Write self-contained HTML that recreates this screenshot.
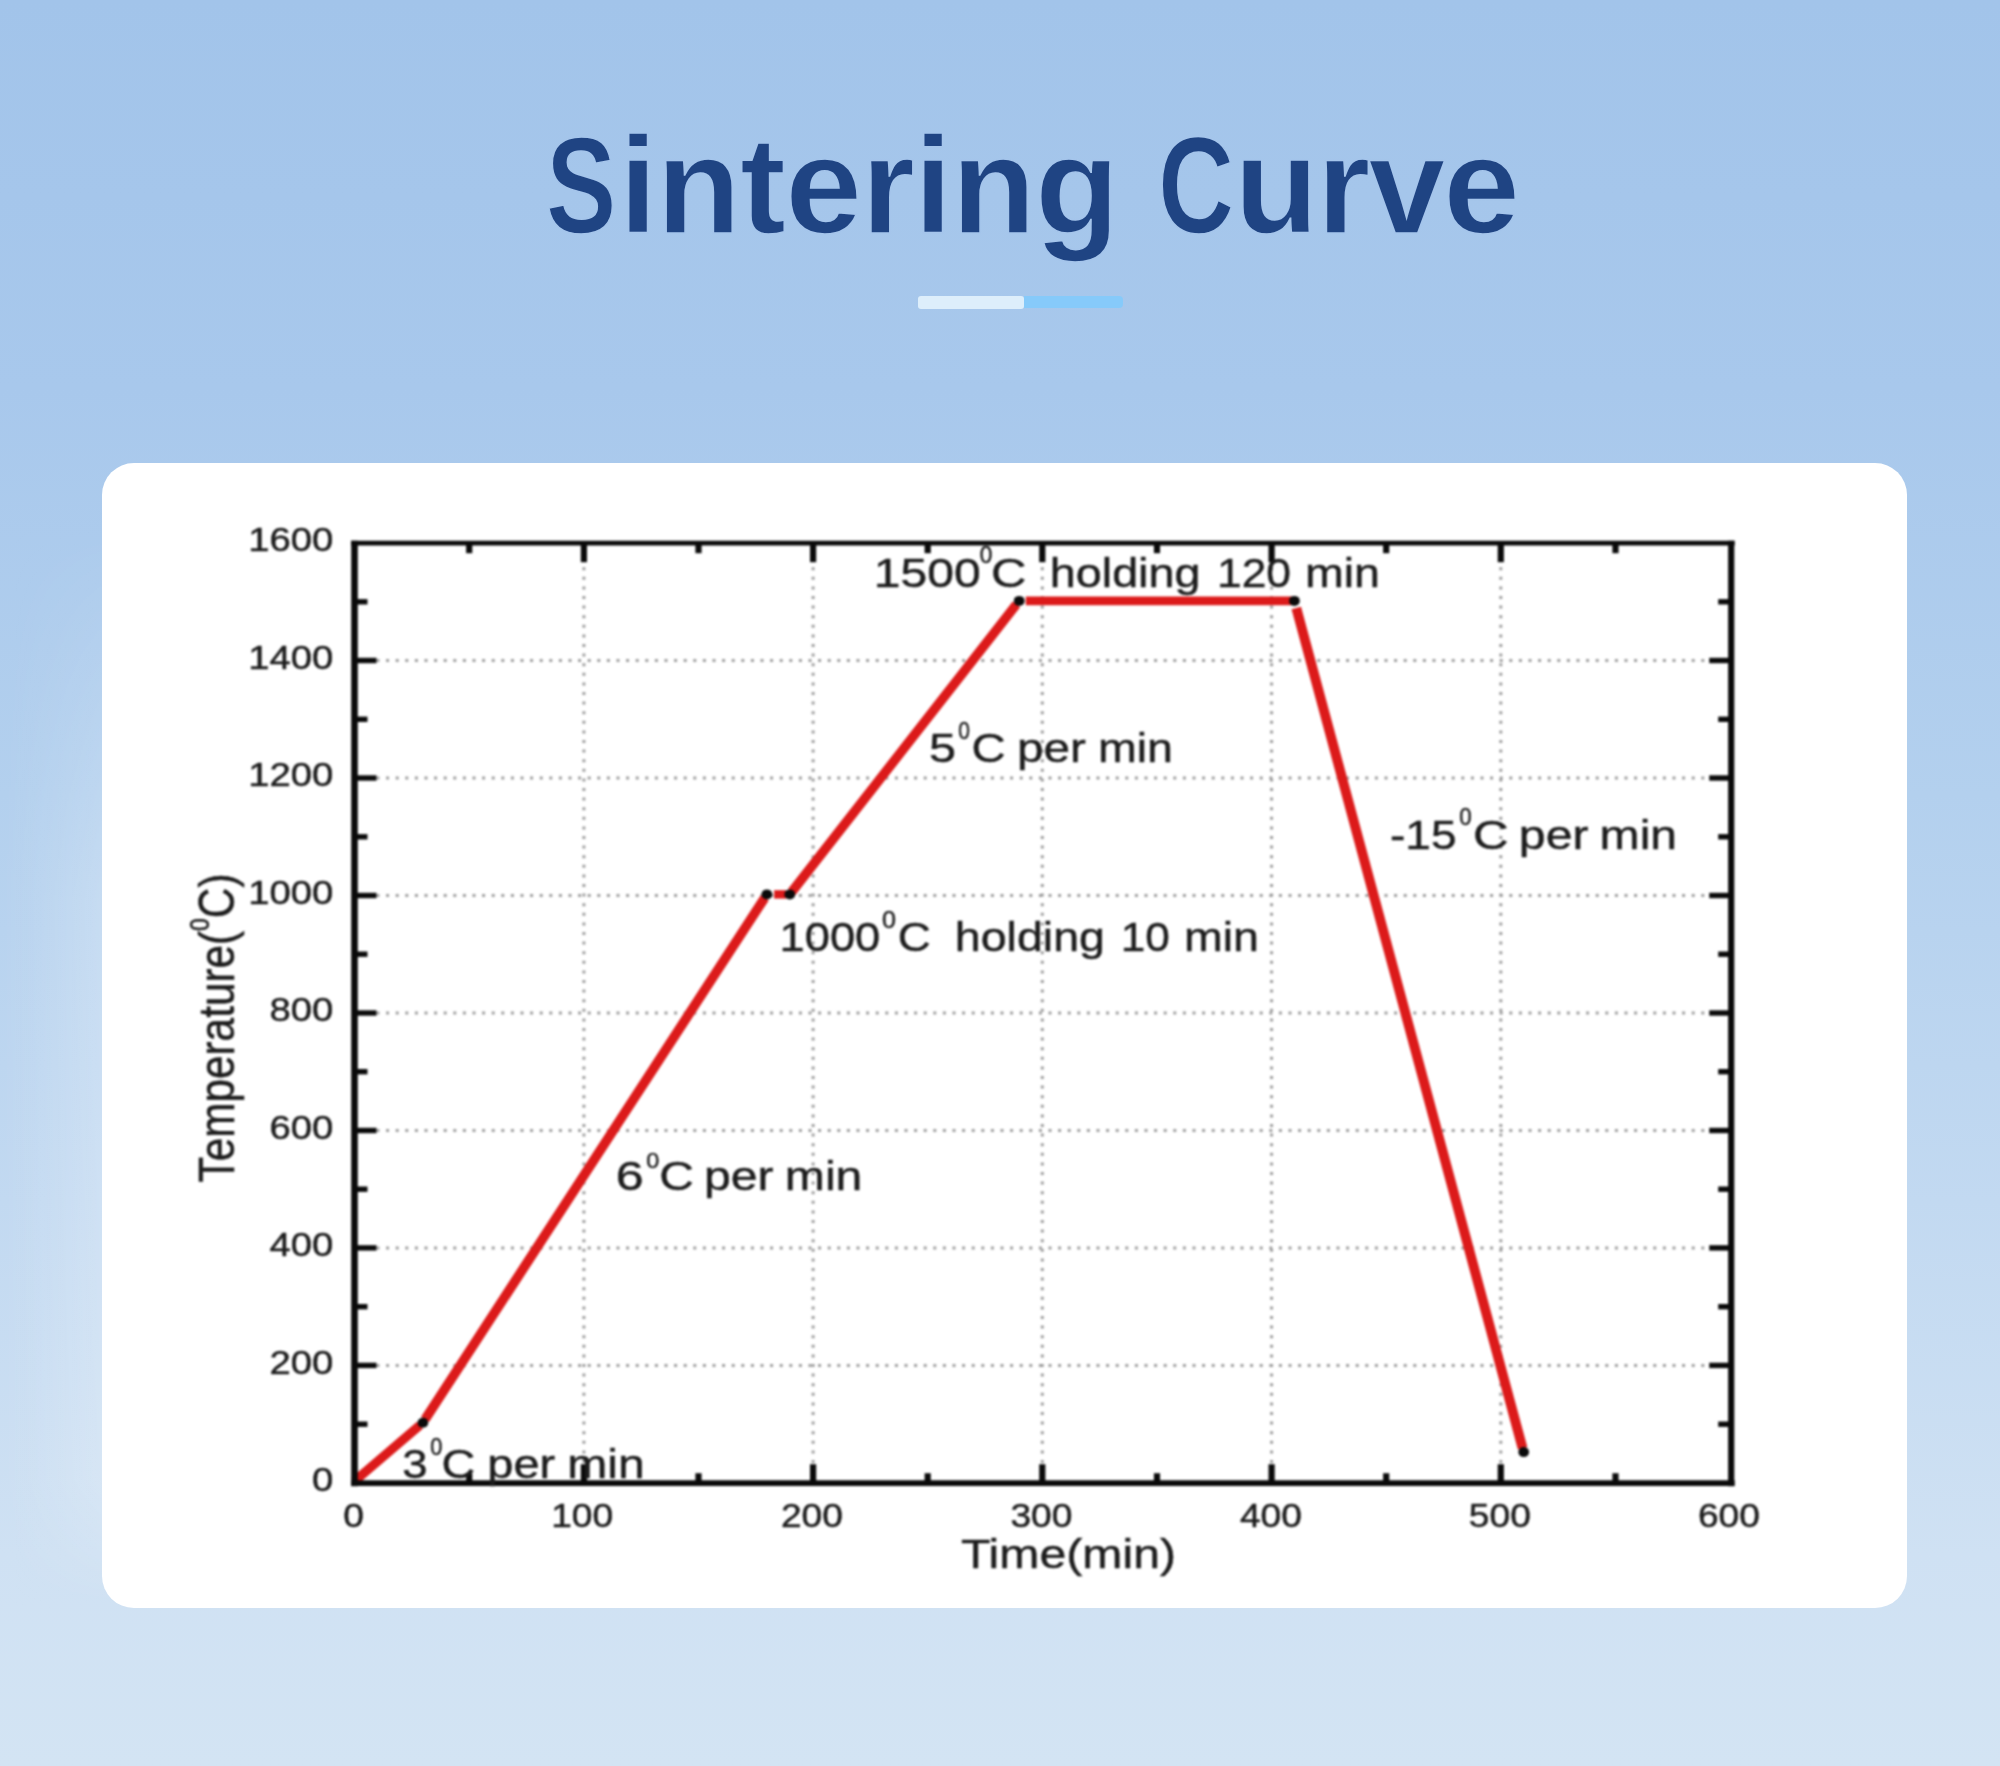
<!DOCTYPE html>
<html lang="en"><head><meta charset="utf-8"><title>Sintering Curve</title>
<style>
html,body{margin:0;padding:0}
body{width:2000px;height:1766px;position:relative;overflow:hidden;
 background:linear-gradient(180deg,#a2c4ea 0%,#a8c8ec 22%,#b3d0ee 45%,#c2d9f1 68%,#cfe1f3 88%,#d3e4f3 100%);
 font-family:"Liberation Sans",sans-serif}
h1{position:absolute;left:545.8px;top:106.2px;margin:0;
 font:bold 138px/1.15 "Liberation Sans",sans-serif;color:#1f4483;letter-spacing:-0.8px;white-space:nowrap;-webkit-text-stroke:1.6px #a5c5eb}
h1 .cap{display:inline-block;transform:scaleX(.765);transform-origin:0 50%}
h1 .cs{width:73.2px} h1 .cc{width:76px;margin-left:2.2px} h1 .w2{letter-spacing:-1.9px}
.bar{position:absolute;top:296px;height:13px;border-radius:3px}
.b1{left:918px;width:106px;background:#ddeefb}
.b2{left:1024px;width:99px;background:#86cafa;border-radius:0 4px 4px 0;height:12px}
.card{position:absolute;left:102px;top:463px;width:1804.5px;height:1144.5px;background:#fff;border-radius:32px}
.glow{position:absolute;left:0;top:520px;width:112px;height:1090px;background:linear-gradient(90deg,rgba(255,255,255,0) 0%,rgba(255,255,255,.10) 45%,rgba(255,255,255,.24) 100%);-webkit-mask-image:linear-gradient(180deg,transparent 0,#000 35%,#000 88%,transparent 100%);mask-image:linear-gradient(180deg,transparent 0,#000 35%,#000 88%,transparent 100%)}
svg{position:absolute;left:0;top:0;filter:blur(.8px)}
svg text{font-family:"Liberation Sans",sans-serif;fill:#1c1c1c;stroke:#1c1c1c;stroke-width:.45px}
.g{stroke:#9e9e9e;stroke-width:3;stroke-dasharray:3 6.6}
.t{stroke:#0a0a0a;stroke-width:5.4}
.tv{stroke:#0a0a0a;stroke-width:6.2}
.r{stroke:#dc1a1a;stroke-linecap:butt}
</style></head>
<body>
<h1><span class="cap cs">S</span>intering <span class="cap cc">C</span><span class="w2">urve</span></h1>
<div class="bar b1"></div><div class="bar b2"></div>
<div class="glow"></div>
<div class="card"></div>
<svg width="2000" height="1766" viewBox="0 0 2000 1766">
<line x1="376.5" y1="1365.4" x2="1725.2" y2="1365.4" class="g"/>
<line x1="376.5" y1="1247.9" x2="1725.2" y2="1247.9" class="g"/>
<line x1="376.5" y1="1130.5" x2="1725.2" y2="1130.5" class="g"/>
<line x1="376.5" y1="1013.0" x2="1725.2" y2="1013.0" class="g"/>
<line x1="376.5" y1="895.5" x2="1725.2" y2="895.5" class="g"/>
<line x1="376.5" y1="778.0" x2="1725.2" y2="778.0" class="g"/>
<line x1="376.5" y1="660.5" x2="1725.2" y2="660.5" class="g"/>
<line x1="583.9" y1="567.2" x2="583.9" y2="1463.2" class="g"/>
<line x1="813.1" y1="567.2" x2="813.1" y2="1463.2" class="g"/>
<line x1="1042.3" y1="567.2" x2="1042.3" y2="1463.2" class="g"/>
<line x1="1271.6" y1="567.2" x2="1271.6" y2="1463.2" class="g"/>
<line x1="1500.8" y1="567.2" x2="1500.8" y2="1463.2" class="g"/>
<line x1="354.5" y1="1424.2" x2="367.5" y2="1424.2" class="t"/>
<line x1="1731.2" y1="1424.2" x2="1718.2" y2="1424.2" class="t"/>
<line x1="354.5" y1="1365.4" x2="376.5" y2="1365.4" class="t"/>
<line x1="1731.2" y1="1365.4" x2="1709.2" y2="1365.4" class="t"/>
<line x1="354.5" y1="1306.7" x2="367.5" y2="1306.7" class="t"/>
<line x1="1731.2" y1="1306.7" x2="1718.2" y2="1306.7" class="t"/>
<line x1="354.5" y1="1247.9" x2="376.5" y2="1247.9" class="t"/>
<line x1="1731.2" y1="1247.9" x2="1709.2" y2="1247.9" class="t"/>
<line x1="354.5" y1="1189.2" x2="367.5" y2="1189.2" class="t"/>
<line x1="1731.2" y1="1189.2" x2="1718.2" y2="1189.2" class="t"/>
<line x1="354.5" y1="1130.5" x2="376.5" y2="1130.5" class="t"/>
<line x1="1731.2" y1="1130.5" x2="1709.2" y2="1130.5" class="t"/>
<line x1="354.5" y1="1071.7" x2="367.5" y2="1071.7" class="t"/>
<line x1="1731.2" y1="1071.7" x2="1718.2" y2="1071.7" class="t"/>
<line x1="354.5" y1="1013.0" x2="376.5" y2="1013.0" class="t"/>
<line x1="1731.2" y1="1013.0" x2="1709.2" y2="1013.0" class="t"/>
<line x1="354.5" y1="954.2" x2="367.5" y2="954.2" class="t"/>
<line x1="1731.2" y1="954.2" x2="1718.2" y2="954.2" class="t"/>
<line x1="354.5" y1="895.5" x2="376.5" y2="895.5" class="t"/>
<line x1="1731.2" y1="895.5" x2="1709.2" y2="895.5" class="t"/>
<line x1="354.5" y1="836.8" x2="367.5" y2="836.8" class="t"/>
<line x1="1731.2" y1="836.8" x2="1718.2" y2="836.8" class="t"/>
<line x1="354.5" y1="778.0" x2="376.5" y2="778.0" class="t"/>
<line x1="1731.2" y1="778.0" x2="1709.2" y2="778.0" class="t"/>
<line x1="354.5" y1="719.3" x2="367.5" y2="719.3" class="t"/>
<line x1="1731.2" y1="719.3" x2="1718.2" y2="719.3" class="t"/>
<line x1="354.5" y1="660.5" x2="376.5" y2="660.5" class="t"/>
<line x1="1731.2" y1="660.5" x2="1709.2" y2="660.5" class="t"/>
<line x1="354.5" y1="601.8" x2="367.5" y2="601.8" class="t"/>
<line x1="1731.2" y1="601.8" x2="1718.2" y2="601.8" class="t"/>
<line x1="469.2" y1="543.2" x2="469.2" y2="553.2" class="tv"/>
<line x1="469.2" y1="1483.2" x2="469.2" y2="1473.2" class="tv"/>
<line x1="583.9" y1="543.2" x2="583.9" y2="562.2" class="tv"/>
<line x1="583.9" y1="1483.2" x2="583.9" y2="1464.2" class="tv"/>
<line x1="698.5" y1="543.2" x2="698.5" y2="553.2" class="tv"/>
<line x1="698.5" y1="1483.2" x2="698.5" y2="1473.2" class="tv"/>
<line x1="813.1" y1="543.2" x2="813.1" y2="562.2" class="tv"/>
<line x1="813.1" y1="1483.2" x2="813.1" y2="1464.2" class="tv"/>
<line x1="927.7" y1="543.2" x2="927.7" y2="553.2" class="tv"/>
<line x1="927.7" y1="1483.2" x2="927.7" y2="1473.2" class="tv"/>
<line x1="1042.3" y1="543.2" x2="1042.3" y2="562.2" class="tv"/>
<line x1="1042.3" y1="1483.2" x2="1042.3" y2="1464.2" class="tv"/>
<line x1="1157.0" y1="543.2" x2="1157.0" y2="553.2" class="tv"/>
<line x1="1157.0" y1="1483.2" x2="1157.0" y2="1473.2" class="tv"/>
<line x1="1271.6" y1="543.2" x2="1271.6" y2="562.2" class="tv"/>
<line x1="1271.6" y1="1483.2" x2="1271.6" y2="1464.2" class="tv"/>
<line x1="1386.2" y1="543.2" x2="1386.2" y2="553.2" class="tv"/>
<line x1="1386.2" y1="1483.2" x2="1386.2" y2="1473.2" class="tv"/>
<line x1="1500.8" y1="543.2" x2="1500.8" y2="562.2" class="tv"/>
<line x1="1500.8" y1="1483.2" x2="1500.8" y2="1464.2" class="tv"/>
<line x1="1615.5" y1="543.2" x2="1615.5" y2="553.2" class="tv"/>
<line x1="1615.5" y1="1483.2" x2="1615.5" y2="1473.2" class="tv"/>
<line x1="354.1" y1="1481.4" x2="419.9" y2="1425.3" class="r" stroke-width="9.2"/>
<line x1="425.1" y1="1419.3" x2="764.7" y2="897.8" class="r" stroke-width="9.6"/>
<line x1="774.1" y1="894.4" x2="786.3" y2="894.4" class="r" stroke-width="8.4"/>
<line x1="791.7" y1="892.0" x2="1016.4" y2="604.4" class="r" stroke-width="9.5"/>
<line x1="1025.8" y1="600.9" x2="1292.4" y2="600.9" class="r" stroke-width="8.7"/>
<line x1="1296.3" y1="608.0" x2="1522.6" y2="1448.2" class="r" stroke-width="9.8"/>
<ellipse cx="422.9" cy="1422.7" rx="5.4" ry="5" fill="#0a0a0a"/>
<ellipse cx="766.9" cy="894.4" rx="5.4" ry="5" fill="#0a0a0a"/>
<ellipse cx="789.8" cy="894.4" rx="5.4" ry="5" fill="#0a0a0a"/>
<ellipse cx="1019.2" cy="600.9" rx="5.4" ry="5" fill="#0a0a0a"/>
<ellipse cx="1294.4" cy="600.9" rx="5.4" ry="5" fill="#0a0a0a"/>
<ellipse cx="1523.7" cy="1452.1" rx="5.4" ry="5" fill="#0a0a0a"/>
<line x1="351.0" y1="543.2" x2="1734.7" y2="543.2" stroke="#0a0a0a" stroke-width="4.8"/>
<line x1="351.0" y1="1483.2" x2="1734.7" y2="1483.2" stroke="#0a0a0a" stroke-width="5.8"/>
<line x1="354.5" y1="540.7" x2="354.5" y2="1486.2" stroke="#0a0a0a" stroke-width="6.6"/>
<line x1="1731.2" y1="540.7" x2="1731.2" y2="1486.2" stroke="#0a0a0a" stroke-width="6.2"/>
<text transform="translate(873.85 586.5) scale(1.1574 1)" font-size="41.5">1500</text>
<text transform="translate(979.82 562.6) scale(0.9824 1)" font-size="23">0</text>
<text transform="translate(991.09 586.5) scale(1.1839 1)" font-size="41.5">C</text>
<text transform="translate(1049.78 586.5) scale(1.1261 1)" font-size="41.5">holding</text>
<text transform="translate(1217.03 586.5) scale(1.0691 1)" font-size="41.5">120</text>
<text transform="translate(1304.92 586.5) scale(1.1234 1)" font-size="41.5">min</text>
<text transform="translate(929.06 762.0) scale(1.1692 1)" font-size="41.5">5</text>
<text transform="translate(958.18 739.0) scale(0.9096 1)" font-size="23">0</text>
<text transform="translate(971.58 762.0) scale(1.1420 1)" font-size="41.5">C</text>
<text transform="translate(1016.90 762.0) scale(1.1491 1)" font-size="41.5">per</text>
<text transform="translate(1097.92 762.0) scale(1.1234 1)" font-size="41.5">min</text>
<text transform="translate(1389.97 849.4) scale(1.1100 1)" font-size="41.5">-15</text>
<text transform="translate(1459.13 825.0) scale(0.9733 1)" font-size="23">0</text>
<text transform="translate(1472.98 849.4) scale(1.1915 1)" font-size="41.5">C</text>
<text transform="translate(1518.87 849.4) scale(1.1597 1)" font-size="41.5">per</text>
<text transform="translate(1599.62 849.4) scale(1.1592 1)" font-size="41.5">min</text>
<text transform="translate(779.56 950.5) scale(1.0911 1)" font-size="41.5">1000</text>
<text transform="translate(882.02 928.0) scale(1.0915 1)" font-size="23">0</text>
<text transform="translate(897.66 950.5) scale(1.1039 1)" font-size="41.5">C</text>
<text transform="translate(954.79 950.5) scale(1.1222 1)" font-size="41.5">holding</text>
<text transform="translate(1120.65 950.5) scale(1.0634 1)" font-size="41.5">10</text>
<text transform="translate(1183.92 950.5) scale(1.1234 1)" font-size="41.5">min</text>
<text transform="translate(615.83 1190.2) scale(1.2127 1)" font-size="41.5">6</text>
<text transform="translate(646.29 1167.5) scale(1.0187 1)" font-size="23">0</text>
<text transform="translate(659.15 1190.2) scale(1.1572 1)" font-size="41.5">C</text>
<text transform="translate(704.07 1190.2) scale(1.1597 1)" font-size="41.5">per</text>
<text transform="translate(784.82 1190.2) scale(1.1592 1)" font-size="41.5">min</text>
<text transform="translate(402.27 1477.7) scale(1.0981 1)" font-size="41.5">3</text>
<text transform="translate(430.35 1454.8) scale(0.9460 1)" font-size="23">0</text>
<text transform="translate(441.62 1477.7) scale(1.1268 1)" font-size="41.5">C</text>
<text transform="translate(487.35 1477.7) scale(1.1315 1)" font-size="41.5">per</text>
<text transform="translate(567.22 1477.7) scale(1.1592 1)" font-size="41.5">min</text>
<text transform="translate(312.01 1491.1) scale(1.1600 1)" font-size="33">0</text>
<text transform="translate(269.44 1373.6) scale(1.1600 1)" font-size="33">200</text>
<text transform="translate(269.44 1256.1) scale(1.1600 1)" font-size="33">400</text>
<text transform="translate(269.44 1138.7) scale(1.1600 1)" font-size="33">600</text>
<text transform="translate(269.44 1021.2) scale(1.1600 1)" font-size="33">800</text>
<text transform="translate(248.16 903.7) scale(1.1600 1)" font-size="33">1000</text>
<text transform="translate(248.16 786.2) scale(1.1600 1)" font-size="33">1200</text>
<text transform="translate(248.16 668.7) scale(1.1600 1)" font-size="33">1400</text>
<text transform="translate(248.16 551.3) scale(1.1600 1)" font-size="33">1600</text>
<text transform="translate(343.27 1526.6) scale(1.1500 1)" font-size="32.3">0</text>
<text transform="translate(551.18 1526.6) scale(1.1500 1)" font-size="32.3">100</text>
<text transform="translate(780.92 1526.6) scale(1.1500 1)" font-size="32.3">200</text>
<text transform="translate(1010.39 1526.6) scale(1.1500 1)" font-size="32.3">300</text>
<text transform="translate(1239.92 1526.6) scale(1.1500 1)" font-size="32.3">400</text>
<text transform="translate(1468.85 1526.6) scale(1.1500 1)" font-size="32.3">500</text>
<text transform="translate(1697.90 1526.6) scale(1.1500 1)" font-size="32.3">600</text>
<text transform="translate(960.94 1568.0) scale(1.1613 1)" font-size="41.5">Time(min)</text>
<g transform="translate(233.5 1181.5) rotate(-90) scale(1 1.18)"><text x="-0.9" y="0" font-size="42.3" stroke-width=".15">Temperature(<tspan font-size="23" dy="-20.5">0</tspan><tspan dy="20.5">C)</tspan></text></g>
</svg>
</body></html>
